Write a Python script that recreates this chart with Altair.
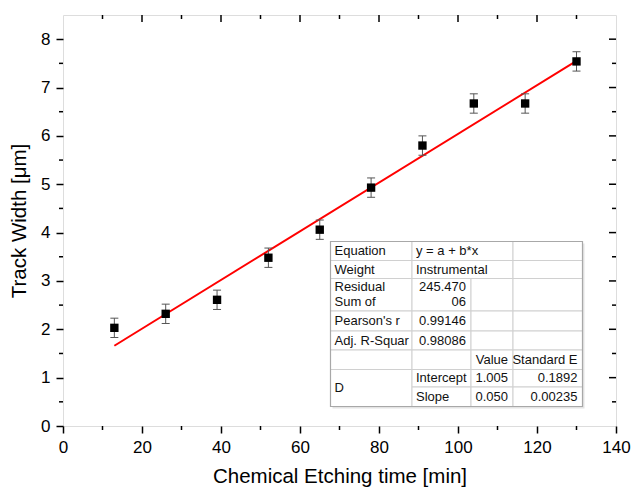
import altair as alt
import pandas as pd

# ---------------- data ----------------
etch_time = [13, 26, 39, 52, 65, 78, 91, 104, 117, 130]
track_width = [2.03, 2.32, 2.61, 3.48, 4.06, 4.93, 5.80, 6.67, 6.67, 7.54]
width_err = [0.20, 0.20, 0.20, 0.20, 0.20, 0.20, 0.20, 0.20, 0.20, 0.20]

fit_x = [13, 130]
fit_y = [1.66, 7.55]

x_major = [0, 20, 40, 60, 80, 100, 120, 140]
x_minor = [10, 30, 50, 70, 90, 110, 130]
y_major = [0, 1, 2, 3, 4, 5, 6, 7, 8]
y_minor = [0.5, 1.5, 2.5, 3.5, 4.5, 5.5, 6.5, 7.5]

x_title = "Chemical Etching time [min]"
y_title = "Track Width [μm]"

# fit-report table text
left_texts = ["Equation", "y = a + b*x", "Weight", "Instrumental", "Residual", "Sum of",
              "Pearson's r", "Adj. R-Squar", "D", "Intercept", "Slope"]
right_texts = ["245.470", "06", "0.99146", "0.98086", "Value", "Standard E",
               "1.005", "0.1892", "0.050", "0.00235"]

# ---------------- layout ----------------
W, H = 553, 411
X_DOM = [0, 140]
Y_DOM = [0, 8.5]
FONT = "Liberation Sans"

XS = alt.Scale(domain=X_DOM, nice=False, zero=False)
YS = alt.Scale(domain=Y_DOM, nice=False, zero=False)
XAX = alt.Axis(values=x_major, title=x_title, grid=False, domain=False,
               tickSize=7, tickWidth=1.5, tickColor="black", labelFlush=False, labelOverlap=False,
               labelFont=FONT, labelFontSize=17, labelColor="black", labelPadding=6,
               titleFont=FONT, titleFontSize=20.5, titleFontWeight="normal", titleColor="black",
               titleX=W / 2, titleY=56, titleAlign="center", titleBaseline="alphabetic")
YAX = alt.Axis(values=y_major, title=y_title, grid=False, domain=False,
               tickSize=7, tickWidth=1.5, tickColor="black", labelFlush=False, labelOverlap=False,
               labelFont=FONT, labelFontSize=17, labelColor="black", labelPadding=6,
               titleFont=FONT, titleFontSize=20.5, titleFontWeight="normal", titleColor="black",
               titleX=-38, titleY=H / 2, titleAngle=270, titleAlign="center",
               titleBaseline="alphabetic")


def X(f="x"):
    return alt.X(f"{f}:Q", scale=XS, axis=XAX)


def Y(f="y"):
    return alt.Y(f"{f}:Q", scale=YS, axis=YAX)


pts = pd.DataFrame({"x": etch_time, "y": track_width,
                    "lo": [v - e for v, e in zip(track_width, width_err)],
                    "hi": [v + e for v, e in zip(track_width, width_err)]})

ERR_C = "#555555"
err_v = alt.Chart(pts).mark_rule(color=ERR_C, strokeWidth=1).encode(
    x=X(), y=Y("lo"), y2="hi:Q")
cap_lo = alt.Chart(pts).mark_rule(color=ERR_C, strokeWidth=1, xOffset=-4, x2Offset=4).encode(
    x=X(), x2="x:Q", y=Y("lo"))
cap_hi = alt.Chart(pts).mark_rule(color=ERR_C, strokeWidth=1, xOffset=-4, x2Offset=4).encode(
    x=X(), x2="x:Q", y=Y("hi"))
squares = alt.Chart(pts).mark_square(size=70, color="black", opacity=1).encode(x=X(), y=Y())

fit = alt.Chart(pd.DataFrame({"x": fit_x, "y": fit_y})).mark_line(
    color="#ff0000", strokeWidth=2).encode(x=X(), y=Y())


# ---------------- extra tick marks (minor + mirrored) ----------------
def xticks(vals, y0, y1):
    return alt.Chart(pd.DataFrame({"x": vals})).mark_rule(color="black", strokeWidth=1.5).encode(
        x=X(), y=alt.value(y0), y2=alt.value(y1))


def yticks(vals, x0, x1):
    return alt.Chart(pd.DataFrame({"y": vals})).mark_rule(color="black", strokeWidth=1.5).encode(
        y=Y(), x=alt.value(x0), x2=alt.value(x1))


inner_x_major = [v for v in x_major if X_DOM[0] < v < X_DOM[1]]
inner_y_major = [v for v in y_major if Y_DOM[0] < v < Y_DOM[1]]
tick_layers = [
    xticks(x_minor, H, H + 4),
    xticks(inner_x_major, 0, 7),
    xticks(x_minor, 0, 4),
    yticks(y_minor, -4, 0),
    yticks(inner_y_major, W, W - 7),
    yticks(y_minor, W, W - 4),
]

# ---------------- fit-report table ----------------
col_px = [267.5, 349, 408, 450, 519.5]
row_px = [226.5, 245.5, 263.5, 296, 316, 335, 354.5, 372, 391.5]


def px2x(p):
    return p / W * (X_DOM[1] - X_DOM[0]) + X_DOM[0]


def px2y(p):
    return Y_DOM[1] - p / H * (Y_DOM[1] - Y_DOM[0])


cells = []
for r in (0, 1):
    cells += [(0, 1, r, r + 1), (1, 3, r, r + 1), (3, 4, r, r + 1)]
for r in (2, 3, 4, 5):
    cells += [(c, c + 1, r, r + 1) for c in range(4)]
cells += [(0, 1, 6, 8)]
for r in (6, 7):
    cells += [(c, c + 1, r, r + 1) for c in (1, 2, 3)]

cell_df = pd.DataFrame({
    "x": [px2x(col_px[c0]) for c0, c1, r0, r1 in cells],
    "x2": [px2x(col_px[c1]) for c0, c1, r0, r1 in cells],
    "y": [px2y(row_px[r0]) for c0, c1, r0, r1 in cells],
    "y2": [px2y(row_px[r1]) for c0, c1, r0, r1 in cells],
})
frame_df = pd.DataFrame({"x": [px2x(col_px[0])], "x2": [px2x(col_px[-1])],
                         "y": [px2y(row_px[0])], "y2": [px2y(row_px[-1])]})
shadow_df = pd.DataFrame({"x": [px2x(col_px[0] + 2)], "x2": [px2x(col_px[-1] + 2)],
                          "y": [px2y(row_px[0] + 2)], "y2": [px2y(row_px[-1] + 2)]})
table_shadow = alt.Chart(shadow_df).mark_rect(fill="#e4e4e4").encode(
    x=X(), x2="x2:Q", y=Y(), y2="y2:Q")
table_bg = alt.Chart(frame_df).mark_rect(fill="white").encode(
    x=X(), x2="x2:Q", y=Y(), y2="y2:Q")
table_cells = alt.Chart(cell_df).mark_rect(fill="white", stroke="#d0d0d0", strokeWidth=1).encode(
    x=X(), x2="x2:Q", y=Y(), y2="y2:Q")
table_border = alt.Chart(frame_df).mark_rect(
    filled=False, stroke="#a8a8a8", strokeWidth=1.2).encode(x=X(), x2="x2:Q", y=Y(), y2="y2:Q")

# (column, row-top, row-bottom, vertical shift) for each text
left_pos = [(0, 0, 1, 0), (1, 0, 1, 0), (0, 1, 2, 0), (1, 1, 2, 0), (0, 2, 3, -8), (0, 2, 3, 7),
            (0, 3, 4, 0), (0, 4, 5, 0), (0, 6, 8, 0), (1, 6, 7, 0), (1, 7, 8, 0)]
right_pos = [(1, 2, 3, -8), (1, 2, 3, 7), (1, 3, 4, 0), (1, 4, 5, 0), (2, 5, 6, 0), (3, 5, 6, 0),
             (2, 6, 7, 0), (3, 6, 7, 0), (2, 7, 8, 0), (3, 7, 8, 0)]

left_df = pd.DataFrame({
    "label": left_texts,
    "x": [px2x(col_px[c] + 4) for c, r0, r1, d in left_pos],
    "y": [px2y((row_px[r0] + row_px[r1]) / 2 + d) for c, r0, r1, d in left_pos],
})
right_df = pd.DataFrame({
    "label": right_texts,
    "x": [px2x(col_px[c + 1] - 5) for c, r0, r1, d in right_pos],
    "y": [px2y((row_px[r0] + row_px[r1]) / 2 + d) for c, r0, r1, d in right_pos],
})
t_left = alt.Chart(left_df).mark_text(align="left", baseline="middle", font=FONT, fontSize=13,
                                      color="#111111").encode(x=X(), y=Y(), text="label:N")
t_right = alt.Chart(right_df).mark_text(align="right", baseline="middle", font=FONT, fontSize=13,
                                        color="#111111").encode(x=X(), y=Y(), text="label:N")

chart = alt.layer(
    fit, err_v, cap_lo, cap_hi, squares, *tick_layers,
    table_shadow, table_bg, table_cells, table_border, t_left, t_right,
).properties(
    width=W, height=H,
    autosize=alt.AutoSizeParams(type="none"),
    padding={"left": 63, "top": 15, "right": 16, "bottom": 66},
).configure_view(
    stroke="black", strokeWidth=1.5, fill="white"
).configure(background="white")

chart.save("out.html", embed_options={"renderer": "svg", "actions": False})
